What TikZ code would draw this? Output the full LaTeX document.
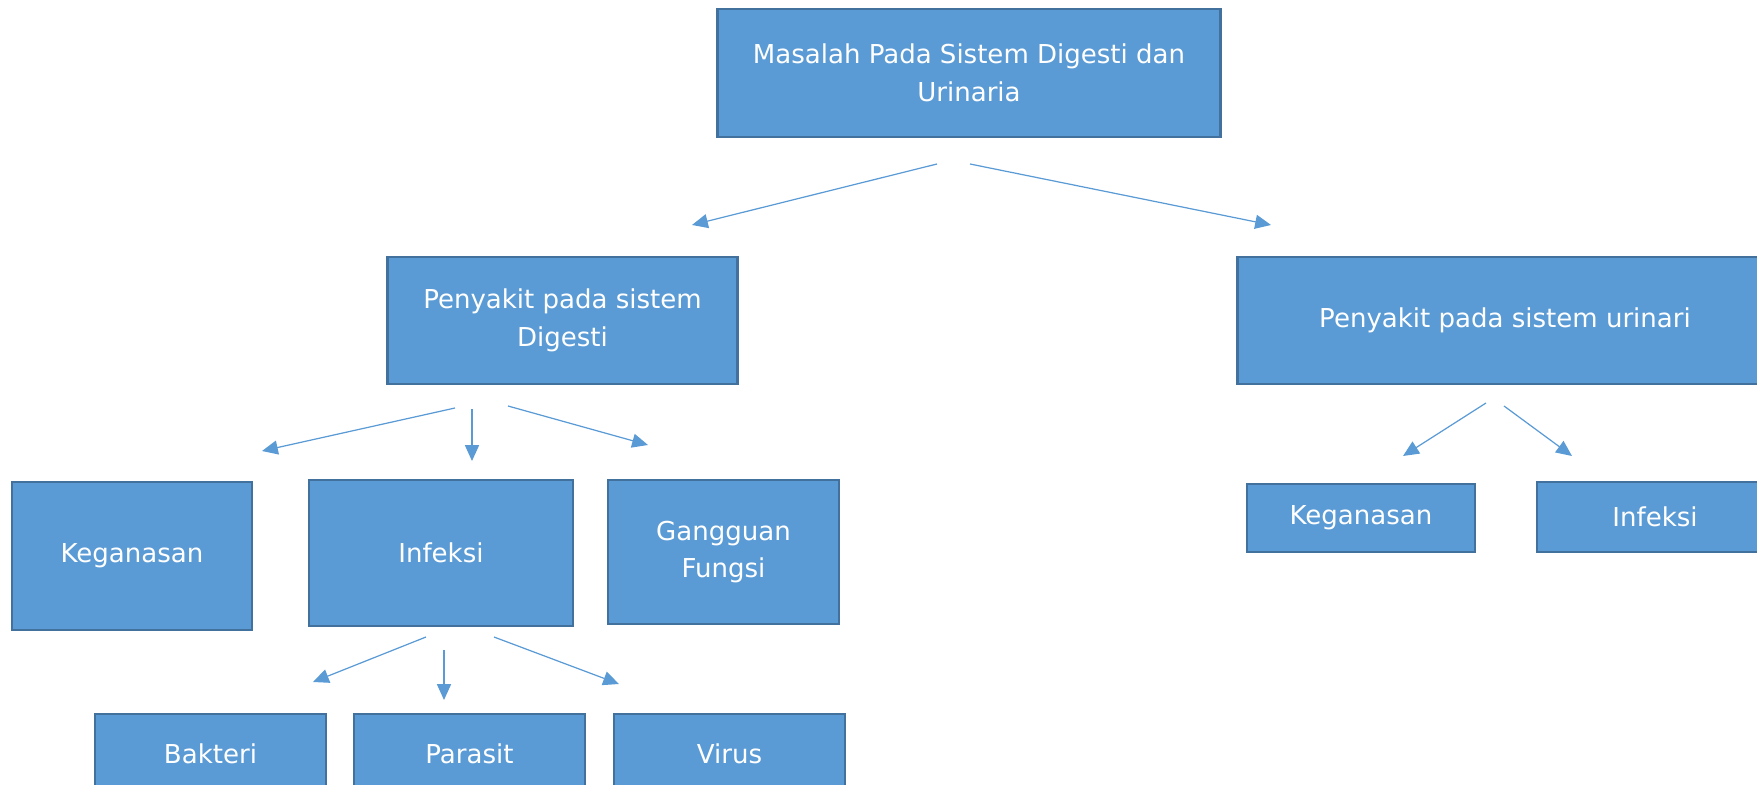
\documentclass[tikz,border=0pt]{standalone}
\usepackage{fontspec}
\setmainfont{DejaVu Sans}
\usepackage{tikz}
\usetikzlibrary{arrows.meta}

\definecolor{boxfill}{HTML}{5B9BD5}
\definecolor{boxline}{HTML}{41719C}

\begin{document}
\begin{tikzpicture}[
    x=0.01cm, y=-0.01cm,
    font=\fontsize{7.4}{10.7}\selectfont,
    >={Triangle[length=4.5pt, width=4pt]},
    % --- node styles -------------------------------------------------
    kotak/.style={
        draw=boxline, fill=boxfill, line width=0.8pt,
        text=white, align=center, inner sep=2pt
    },
    panah/.style={->, boxfill, line width=0.35pt}
]
\useasboundingbox (0,0) rectangle (1757,785);

% --- level 0 ------------------------------------------------------
\node[kotak, minimum width=5.02cm, minimum height=1.28cm] (masalah) at (969,73)
    {Masalah Pada Sistem Digesti dan\\Urinaria};

% --- level 1 ------------------------------------------------------
\node[kotak, minimum width=3.49cm, minimum height=1.27cm] (digesti) at (562.5,320.5)
    {Penyakit pada sistem\\Digesti};
\node[kotak, minimum width=5.34cm, minimum height=1.27cm] (urinari) at (1505,320.5)
    {Penyakit pada sistem urinari};

% --- level 2 (digesti) --------------------------------------------
\node[kotak, minimum width=2.40cm, minimum height=1.48cm] (kegD) at (132,556) {Keganasan};
\node[kotak, minimum width=2.64cm, minimum height=1.46cm] (infD) at (441,553) {Infeksi};
\node[kotak, minimum width=2.31cm, minimum height=1.44cm] (gangguan) at (723.5,552)
    {Gangguan\\Fungsi};

% --- level 2 (urinari) --------------------------------------------
\node[kotak, minimum width=2.28cm, minimum height=0.68cm] (kegU) at (1361,518) {Keganasan};
\node[kotak, minimum width=2.36cm, minimum height=0.70cm] (infU) at (1655,517) {Infeksi};

% --- level 3 (infeksi) --------------------------------------------
\node[kotak, minimum width=2.31cm, minimum height=0.80cm] (bakteri) at (210.5,754) {Bakteri};
\node[kotak, minimum width=2.31cm, minimum height=0.80cm] (parasit) at (469.5,754) {Parasit};
\node[kotak, minimum width=2.31cm, minimum height=0.80cm] (virus) at (729.5,754) {Virus};

% --- arrow end points ---------------------------------------------
\coordinate (m1) at (937,164);   \coordinate (m1e) at (692,225);
\coordinate (m2) at (970,164);   \coordinate (m2e) at (1271,225);
\coordinate (d1) at (455,408);   \coordinate (d1e) at (262,451);
\coordinate (d2) at (472,409);   \coordinate (d2e) at (472,461);
\coordinate (d3) at (508,406);   \coordinate (d3e) at (648,445);
\coordinate (i1) at (426,637);   \coordinate (i1e) at (313,682);
\coordinate (i2) at (444,650);   \coordinate (i2e) at (444,700);
\coordinate (i3) at (494,637);   \coordinate (i3e) at (619,684);
\coordinate (u1) at (1486,403);  \coordinate (u1e) at (1403,456);
\coordinate (u2) at (1504,406);  \coordinate (u2e) at (1572,456);

% --- arrows -------------------------------------------------------
\draw[panah] (m1) -- (m1e);
\draw[panah] (m2) -- (m2e);
\draw[panah] (d1) -- (d1e);
\draw[panah] (d2) -- (d2e);
\draw[panah] (d3) -- (d3e);
\draw[panah] (i1) -- (i1e);
\draw[panah] (i2) -- (i2e);
\draw[panah] (i3) -- (i3e);
\draw[panah] (u1) -- (u1e);
\draw[panah] (u2) -- (u2e);

\end{tikzpicture}
\end{document}
